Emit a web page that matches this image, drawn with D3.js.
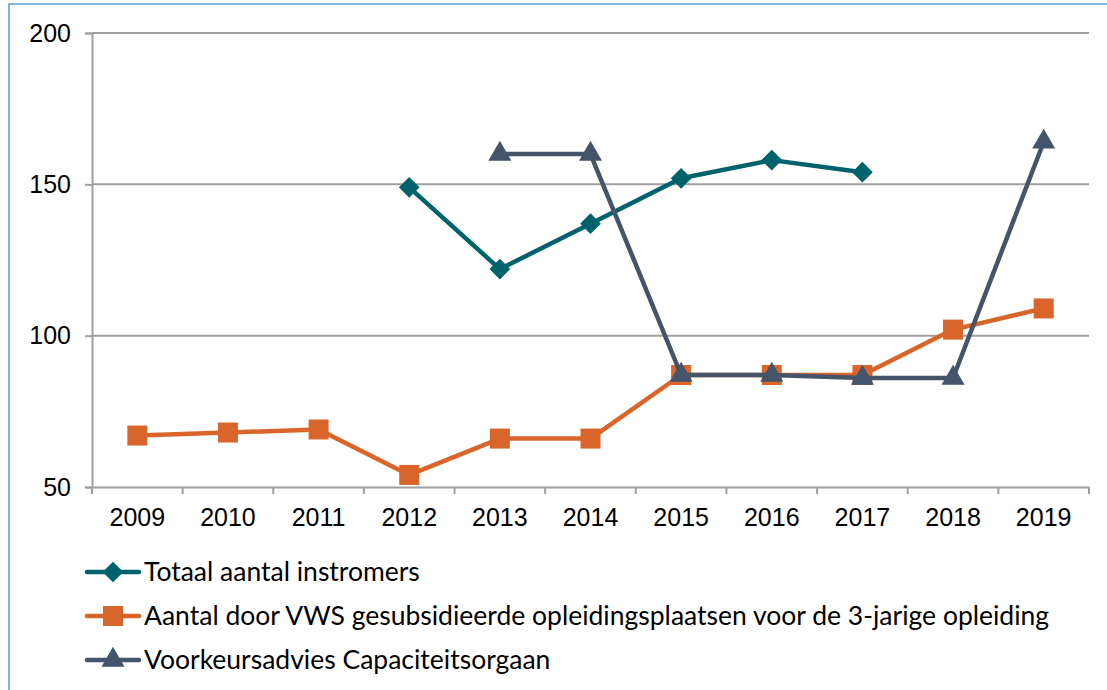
<!DOCTYPE html>
<html>
<head>
<meta charset="utf-8">
<script src="https://cdn.jsdelivr.net/npm/d3@7"></script>
<style>
  body { margin: 0; background: #fff; }
  svg { font-family: Lato, "Open Sans", sans-serif; }
</style>
</head>
<body>
<div class="svg-wrapper"></div>
<script>
// categories and series
var years = ["2009","2010","2011","2012","2013","2014","2015","2016","2017","2018","2019"];
var totaal = [null, null, null, 149, 122, 137, 152, 158, 154, null, null];
var vws    = [67, 68, 69, 54, 66, 66, 87, 87, 87, 102, 109];
var advies = [null, null, null, null, 160, 160, 87, 87, 86, 86, 164];
var yTicks = [50, 100, 150, 200];

var seriesNames = [
  "Totaal aantal instromers",
  "Aantal door VWS gesubsidieerde opleidingsplaatsen voor de 3-jarige opleiding",
  "Voorkeursadvies Capaciteitsorgaan"
];
var seriesColors = ["#00626b", "#d9652a", "#44546a"];
var seriesShapes = [d3.symbolSquare, d3.symbolSquare, d3.symbolTriangle];
var seriesRotate = [45, 0, 0];
var seriesSizes  = [215, 400, 230];
var seriesData   = [totaal, vws, advies];

var W = 1107, H = 690,
    margin = {top: 33, right: 18, bottom: 203, left: 92},
    width  = W - margin.left - margin.right,
    height = H - margin.top - margin.bottom;

var svg = d3.select(".svg-wrapper").append("svg")
  .attr("width", W)
  .attr("height", H);

// outer frame
svg.append("rect")
  .attr("x", 9).attr("y", 4)
  .attr("width", W + 10).attr("height", H + 10)
  .attr("fill", "none")
  .attr("stroke", "#5b9bd5")
  .attr("stroke-width", 1.5);

var g = svg.append("g").attr("transform", "translate(" + margin.left + "," + margin.top + ")");

var x = d3.scaleBand().domain(years).range([0, width]);
var y = d3.scaleLinear().domain([50, 200]).range([height, 0]);

// gridlines
g.selectAll(".grid").data(yTicks.filter(function(d) { return d > 50; }))
  .enter().append("line")
  .attr("x1", 0).attr("x2", width)
  .attr("y1", function(d) { return y(d); })
  .attr("y2", function(d) { return y(d); })
  .attr("stroke", "#a0a0a0")
  .attr("stroke-width", 2);

// y axis
var yAxis = g.append("g")
  .call(d3.axisLeft(y).tickValues(yTicks).tickSize(7).tickPadding(14));
yAxis.select(".domain").attr("stroke", "#a0a0a0").attr("stroke-width", 2);
yAxis.selectAll(".tick line").attr("stroke", "#a0a0a0").attr("stroke-width", 2);
yAxis.selectAll("text").attr("font-size", 25).attr("fill", "#000");

// x axis
var xAxis = g.append("g")
  .attr("transform", "translate(0," + height + ")")
  .call(d3.axisBottom(x).tickSize(0).tickPadding(21));
xAxis.select(".domain").attr("stroke", "#a0a0a0").attr("stroke-width", 2);
xAxis.selectAll("text").attr("font-size", 25).attr("fill", "#000");
g.selectAll(".xtick").data(d3.range(years.length + 1))
  .enter().append("line")
  .attr("x1", function(i) { return i * x.step(); })
  .attr("x2", function(i) { return i * x.step(); })
  .attr("y1", height).attr("y2", height + 7)
  .attr("stroke", "#a0a0a0")
  .attr("stroke-width", 2);

var line = d3.line()
  .defined(function(d) { return d != null; })
  .x(function(d, i) { return x(years[i]) + x.bandwidth() / 2; })
  .y(function(d) { return y(d); });

seriesData.forEach(function(data, s) {
  g.append("path")
    .datum(data)
    .attr("d", line)
    .attr("fill", "none")
    .attr("stroke", seriesColors[s])
    .attr("stroke-width", 4.5)
    .attr("stroke-linejoin", "round");
  g.selectAll(".m" + s)
    .data(data.map(function(v, i) { return {v: v, i: i}; }).filter(function(d) { return d.v != null; }))
    .enter().append("path")
    .attr("d", d3.symbol().type(seriesShapes[s]).size(seriesSizes[s]))
    .attr("transform", function(d) {
      return "translate(" + (x(years[d.i]) + x.bandwidth() / 2) + "," + y(d.v) + ") rotate(" + seriesRotate[s] + ")";
    })
    .attr("fill", seriesColors[s]);
});

// legend
var legend = svg.append("g");
seriesNames.forEach(function(name, s) {
  var ly = 572 + s * 44;
  legend.append("line")
    .attr("x1", 87).attr("x2", 139)
    .attr("y1", ly).attr("y2", ly)
    .attr("stroke", seriesColors[s])
    .attr("stroke-width", 4.5)
    .attr("stroke-linecap", "round");
  legend.append("path")
    .attr("d", d3.symbol().type(seriesShapes[s]).size(seriesSizes[s]))
    .attr("transform", "translate(113," + ly + ") rotate(" + seriesRotate[s] + ")")
    .attr("fill", seriesColors[s]);
  legend.append("text")
    .attr("x", 144).attr("y", ly)
    .attr("dy", "0.35em")
    .attr("font-size", 26.5)
    .attr("fill", "#000")
    .text(name);
});
</script>
</body>
</html>
